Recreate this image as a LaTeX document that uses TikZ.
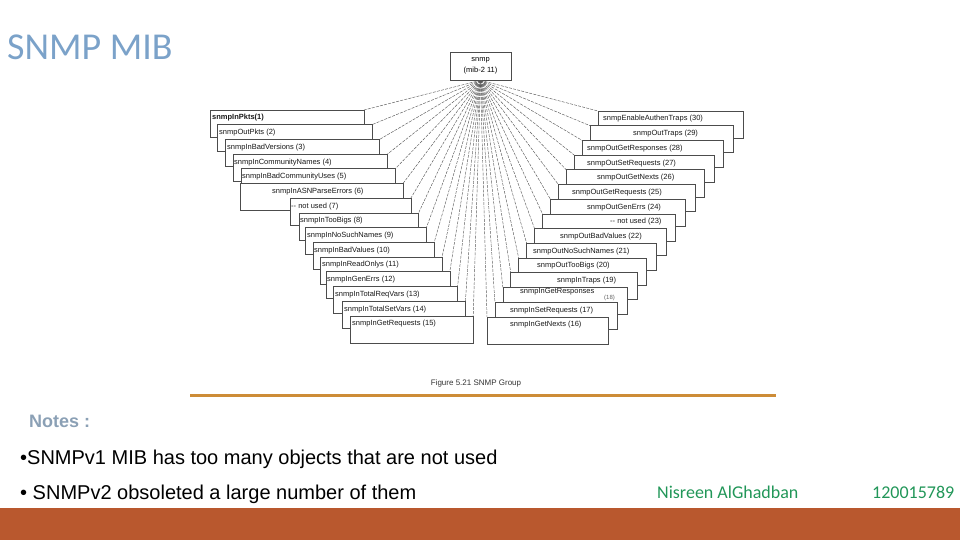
\documentclass[tikz,border=0pt]{standalone}
\usepackage{fontspec}
\setmainfont{Liberation Sans}
\newfontfamily\calibrifont{Carlito}
\definecolor{titleblue}{RGB}{123,162,201}
\definecolor{notegray}{RGB}{139,160,181}
\definecolor{footgreen}{RGB}{33,150,88}
\definecolor{barbrown}{RGB}{185,88,46}
\definecolor{ruleorange}{RGB}{205,140,55}

\begin{document}
\begin{tikzpicture}[x=1pt,y=-1pt,
  mibbox/.style={draw=black!70,line width=0.6pt,fill=white,inner sep=0pt,outer sep=0pt,anchor=north west,minimum height=27pt},
  mibtext/.style={font=\fontsize{7.5}{9}\selectfont,inner sep=0pt,anchor=west,text=black!90},
  link/.style={draw=black!65,line width=0.45pt,dash pattern=on 3pt off 1.2pt}]
\useasboundingbox (0,0) rectangle (960,540);
% slide title
\node[anchor=base west,inner sep=0pt,text=titleblue,font=\calibrifont\fontsize{38}{38}\selectfont] (title) at (7,60) {SNMP MIB};
% root of the group
\node[draw=black!70,line width=0.6pt,minimum width=61pt,minimum height=28pt,align=center,font=\fontsize{7.5}{11}\selectfont,inner sep=1pt] (snmp) at (480.5,66) {snmp\\(mib-2 11)};
% left column, objects 1 to 15
\foreach \n/\xl/\tx/\lab in {1/210/212/{\textbf{snmpInPkts(1)}},2/217/219/snmpOutPkts (2),
  3/225/227/snmpInBadVersions (3),4/233/234/snmpInCommunityNames (4),
  5/241/242/snmpInBadCommunityUses (5),6/240/272/snmpInASNParseErrors (6),
  7/290/291/-{}- not used (7),8/299/300/snmpInTooBigs (8),9/305/307/snmpInNoSuchNames (9),
  10/313/314/snmpInBadValues (10),11/320/322/snmpInReadOnlys (11),12/326/327/snmpInGenErrs (12),
  13/333/335/snmpInTotalReqVars (13),14/342/344/snmpInTotalSetVars (14),15/350/352/snmpInGetRequests (15)}{
  \pgfmathsetmacro\ytop{110+14.7*(\n-1)}
  \pgfmathsetmacro\bw{364+7.8*(\n-1)-\xl}
  \node[mibbox,minimum width=\bw pt] (L\n) at (\xl,\ytop) {};
  \node[mibtext] (tL\n) at (\tx,\ytop+8) {\lab};
}
% right column, objects 30 down to 16
\foreach \n/\tx/\dy/\lab in {30/603/8/snmpEnableAuthenTraps (30),29/633/8/snmpOutTraps (29),
  28/587/8/snmpOutGetResponses (28),27/587/8/snmpOutSetRequests (27),26/597/8/snmpOutGetNexts (26),
  25/572/8/snmpOutGetRequests (25),24/587/8/snmpOutGenErrs (24),23/610/8/-{}- not used (23),
  22/560/8/snmpOutBadValues (22),21/533/8/snmpOutNoSuchNames (21),20/537/8/snmpOutTooBigs (20),
  19/557/8/snmpInTraps (19),18/520/4/snmpInGetResponses,17/510/8/snmpInSetRequests (17),
  16/510/8/snmpInGetNexts (16)}{
  \pgfmathsetmacro\ytop{111+14.7*(30-\n)}
  \pgfmathsetmacro\xl{598-7.93*(30-\n)}
  \pgfmathsetmacro\bw{743-9.64*(30-\n)-\xl}
  \node[mibbox,minimum width=\bw pt] (R\n) at (\xl,\ytop) {};
  \node[mibtext] (tR\n) at (\tx,\ytop+\dy) {\lab};
}
\node[mibtext,font=\fontsize{6}{7}\selectfont,text=black!60] (tR18b) at (604,298) {(18)};
% links from snmp
\foreach \n in {1,...,15}
  \draw[link] (snmp.south) -- (L\n.north east);
\foreach \n in {16,...,30}
  \draw[link] (snmp.south) -- (R\n.north west);
\node[font=\fontsize{8}{9}\selectfont,text=black!80] (caption) at (476,383) {Figure 5.21 SNMP Group};
\draw[ruleorange,line width=3pt] (190,395) -- (776,395);
% notes
\node[anchor=base west,inner sep=0pt,text=notegray,font=\bfseries\fontsize{18}{20}\selectfont] (notes) at (29,427) {Notes :};
\node[anchor=base west,inner sep=0pt,font=\fontsize{20}{22}\selectfont] (note1) at (20,464) {•SNMPv1 MIB has too many objects that are not used};
\node[anchor=base west,inner sep=0pt,font=\fontsize{20}{22}\selectfont] (note2) at (20,499) {• SNMPv2 obsoleted a large number of them};
% footer
\fill[barbrown] (0,508) rectangle (960,540);
\node[anchor=base west,inner sep=0pt,text=footgreen,font=\calibrifont\fontsize{18}{20}\selectfont] (author) at (657,498) {Nisreen AlGhadban};
\node[anchor=base west,inner sep=0pt,text=footgreen,font=\calibrifont\fontsize{18}{20}\selectfont] (idnum) at (872,498) {120015789};
\end{tikzpicture}
\end{document}
